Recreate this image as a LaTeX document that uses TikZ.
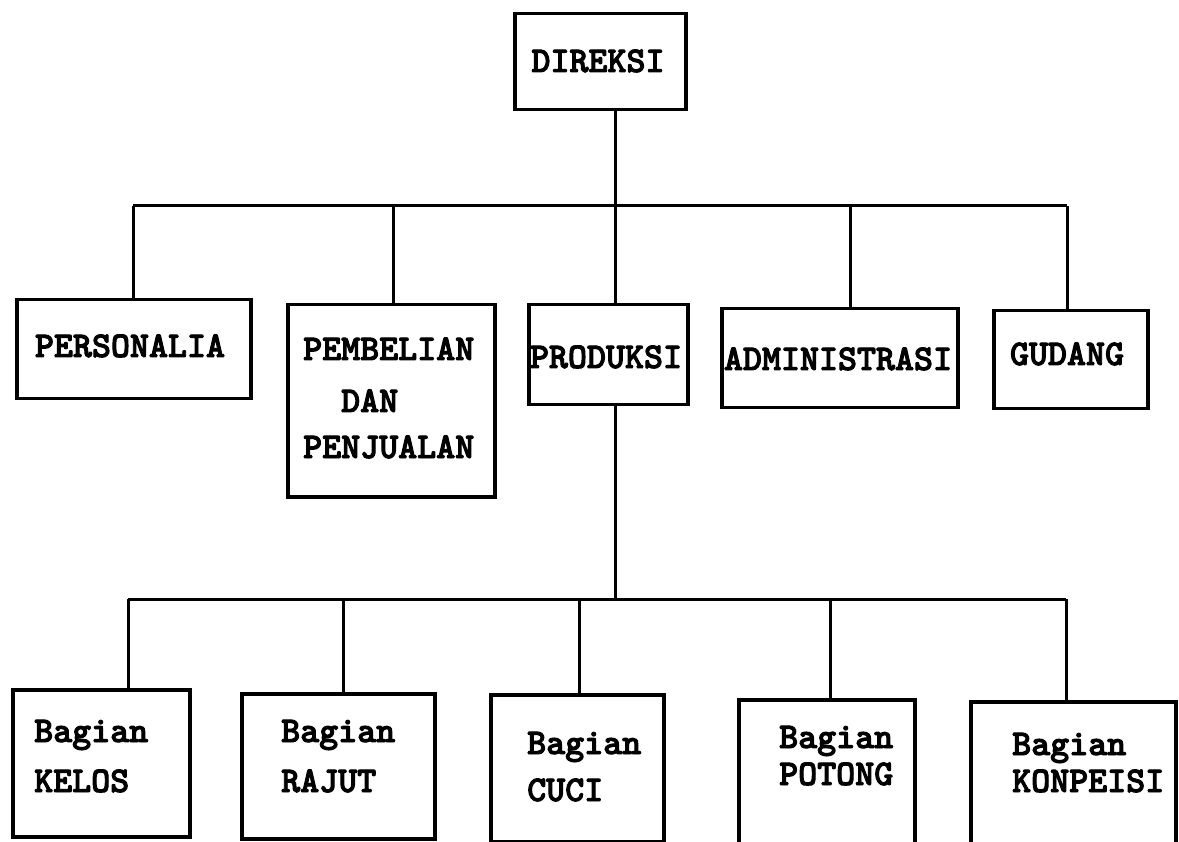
\documentclass[tikz,border=0pt]{standalone}
\usepackage{fontspec}
\newfontfamily\tw{lmmonolt10-bold.otf}[FakeBold=2.6]
\newcommand\tx[1]{{\fontsize{36.2}{42}\tw #1}}
\begin{document}
\begin{tikzpicture}[x=1pt,y=-1pt,
  box/.style={draw=black, line width=3.5pt, inner sep=0pt, anchor=north west},
  conn/.style={draw=black, line width=3pt},
  ctxt/.style={inner sep=0pt, anchor=base},
  ltxt/.style={inner sep=0pt, anchor=base west}]
\useasboundingbox[fill=white] (0,0) rectangle (1179,842);

% boxes (top level and middle level)
\node[box, minimum width=171pt, minimum height=96pt]  (dir)  at (513,12)  {};
\node[box, minimum width=234pt, minimum height=99pt]  (pers) at (15,298)  {};
\node[box, minimum width=207pt, minimum height=192pt] (pemb) at (286,303) {};
\node[box, minimum width=159pt, minimum height=100pt] (prod) at (527,303) {};
\node[box, minimum width=236pt, minimum height=99pt]  (adm)  at (720,307) {};
\node[box, minimum width=154pt, minimum height=98pt]  (gud)  at (992,309) {};
% bottom level
\node[box, minimum width=177pt, minimum height=147pt] (kel) at (11,688)  {};
\node[box, minimum width=193pt, minimum height=145pt] (raj) at (240,692) {};
\node[box, minimum width=173pt, minimum height=147pt] (cuc) at (489,693) {};
\node[box, minimum width=176pt, minimum height=170pt] (pot) at (737,698) {};
\node[box, minimum width=205pt, minimum height=170pt] (kon) at (969,700) {};

% texts
\node[ctxt] (tdir)  at (598,72)  {\tx{DIREKSI}};
\node[ctxt] (tpers) at (130,357) {\tx{PERSONALIA}};
\node[ltxt] (tpe1)  at (303,360) {\tx{PEMBELIAN}};
\node[ltxt] (tpe2)  at (341,412) {\tx{DAN}};
\node[ltxt] (tpe3)  at (303,458) {\tx{PENJUALAN}};
\node[ctxt] (tprod) at (606,368) {\tx{PRODUKSI}};
\node[ctxt] (tadm)  at (838,370) {\tx{ADMINISTRASI}};
\node[ctxt] (tgud)  at (1067,365) {\tx{GUDANG}};
\node[ltxt] (tk1) at (34,742)  {\tx{Bagian}};
\node[ltxt] (tk2) at (34,792)  {\tx{KELOS}};
\node[ltxt] (tr1) at (281,742) {\tx{Bagian}};
\node[ltxt] (tr2) at (281,792) {\tx{RAJUT}};
\node[ltxt] (tc1) at (527,754) {\tx{Bagian}};
\node[ltxt] (tc2) at (527,801) {\tx{CUCI}};
\node[ltxt] (tp1) at (779,748) {\tx{Bagian}};
\node[ltxt] (tp2) at (779,785) {\tx{POTONG}};
\node[ltxt] (tn1) at (1012,755) {\tx{Bagian}};
\node[ltxt] (tn2) at (1012,792) {\tx{KONPEISI}};

% bus coordinates
\coordinate (j1) at (615,206);
\coordinate (a1) at (133,206);
\coordinate (a2) at (393,206);
\coordinate (a4) at (850,206);
\coordinate (a5) at (1067,206);
\coordinate (j2) at (615,599);
\coordinate (b1) at (128,599);
\coordinate (b2) at (343,599);
\coordinate (b3) at (579,599);
\coordinate (b4) at (830,599);
\coordinate (b5) at (1066,599);

% connectors
\draw[conn] (j1 |- dir.south) -- (j1);
\draw[conn] (a1) -- (a5);
\draw[conn] (a1) -- (a1 |- pers.north);
\draw[conn] (a2) -- (a2 |- pemb.north);
\draw[conn] (j1) -- (j1 |- prod.north);
\draw[conn] (a4) -- (a4 |- adm.north);
\draw[conn] (a5) -- (a5 |- gud.north);
\draw[conn] (j2 |- prod.south) -- (j2);
\draw[conn] (b1) -- (b5);
\draw[conn] (b1) -- (b1 |- kel.north);
\draw[conn] (b2) -- (b2 |- raj.north);
\draw[conn] (b3) -- (b3 |- cuc.north);
\draw[conn] (b4) -- (b4 |- pot.north);
\draw[conn] (b5) -- (b5 |- kon.north);
\end{tikzpicture}
\end{document}
